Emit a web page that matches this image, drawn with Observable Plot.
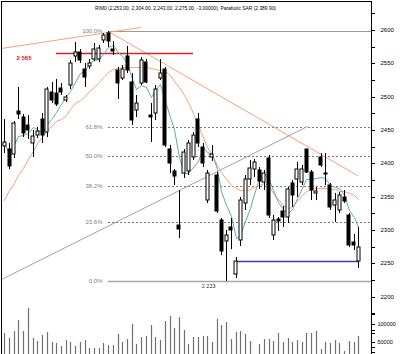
<!DOCTYPE html>
<html><head><meta charset="utf-8">
<script src="https://cdn.jsdelivr.net/npm/d3@7"></script>
<script src="https://cdn.jsdelivr.net/npm/@observablehq/plot@0.6"></script>
<style>
body{margin:0;background:#fff;}
#chart{position:relative;width:400px;height:354px;overflow:hidden;background:#fff;}
#chart svg{position:absolute;left:0;}
</style></head><body><div id="chart"></div>
<script>
// ---- data ----
const opens  = [2426,2422,2414,2479,2469,2457,2430,2443,2467,2447, 2507,2505,2513,2495,2517,2561,2567,2542,2546,2557, 2557,2585,2596,2571,2540,2528,2561,2522,2480,2521, 2552,2472,2475,2528,2542,2422,2388,2308,2385,2388, 2410,2467,2425,2345,2410,2382,2315,2283,2305,2234, 2285,2340,2376,2392,2390,2372,2408,2292,2316,2329, 2320,2370,2377,2372,2421,2387,2356,2410,2386,2368, 2338,2330,2349,2322,2282,2253];
const highs  = [2466,2430,2463,2515,2474,2472,2450,2455,2475,2515, 2522,2527,2520,2502,2555,2582,2572,2550,2557,2580, 2577,2595,2598,2584,2545,2547,2576,2535,2502,2559, 2556,2491,2517,2557,2545,2427,2392,2360,2422,2435, 2447,2475,2430,2390,2428,2387,2318,2300,2318,2260, 2350,2382,2405,2406,2395,2390,2412,2322,2320,2336, 2365,2375,2402,2398,2422,2390,2365,2415,2415,2370, 2355,2357,2360,2325,2294,2304];
const lows   = [2415,2392,2408,2466,2440,2437,2410,2438,2430,2440, 2490,2486,2502,2492,2512,2552,2551,2515,2542,2553, 2552,2580,2575,2563,2497,2525,2535,2457,2470,2517, 2520,2432,2465,2525,2425,2385,2368,2288,2378,2383, 2405,2425,2395,2340,2403,2325,2263,2223,2272,2228, 2276,2330,2368,2380,2362,2360,2318,2285,2298,2305, 2310,2335,2350,2368,2385,2345,2345,2395,2368,2330, 2312,2325,2340,2275,2270,2243];
const closes = [2432,2396,2461,2474,2446,2450,2441,2449,2442,2512, 2495,2489,2507,2499,2550,2567,2555,2529,2551,2572, 2573,2592,2583,2569,2520,2541,2540,2465,2490,2555, 2522,2469,2512,2535,2428,2401,2381,2302,2417,2430, 2442,2430,2400,2385,2414,2328,2268,2292,2300,2254, 2345,2376,2393,2402,2373,2385,2322,2315,2313,2319, 2362,2352,2392,2391,2387,2360,2358,2398,2384,2335, 2345,2352,2343,2277,2278,2275];
const volumes = [74200,62400,80400,110000,80400,141400,62400,53500,69600,76900, 51600,48900,40000,55400,50800,40000,50000,55400,33900,33900, 35500,48100,43500,43500,72300,50000,58100,100000,44600,63400, 67700,95700,64200,56200,106500,121500,89200,118800,83100,44600, 63400,65100,66900,67700,51600,111800,95700,105400,58900,78500, 80400,71500,53500,12000,45400,58100,58900,53500,74200,51600, 61600,51600,55400,51600,75000,75000,80400,32000,50800,48900, 56200,48900,27400,53500,50800,66900];
const slowMA = [2345,2360,2370,2382,2393,2407,2418,2430,2440,2450, 2458,2463,2467,2472,2482,2490,2495,2501,2508,2514, 2522,2530,2537,2541,2543,2544,2545,2545,2545,2545, 2545,2543,2541,2540,2538,2532,2524,2515,2503,2492, 2475,2458,2440,2425,2412,2398,2387,2377,2368,2363, 2360,2360,2362,2364,2367,2370,2366,2356,2346,2337, 2332,2336,2343,2352,2359,2362,2363,2363,2363,2362, 2361,2359,2358,2355,2352,2347];

const fibPercents = [0, 23.6, 38.2, 50, 61.8, 100];
const fibLabels   = ["0.0%", "23.6%", "38.2%", "50.0%", "61.8%", "100.0%"];
const fibLow = 2223, fibHigh = 2598, fibStartIndex = 22, fibLowIndex = 47;

const priceTicks = [2200,2250,2300,2350,2400,2450,2500,2550,2600];
const priceMinorTicks = [2125,2150,2175,2200,2225,2250,2275,2300,2325,2350,2375,2400,2425,2450,2475,2500,2525,2550,2575,2600,2625];
const volumeTicks = [50000,100000];
const volumeMinorTicks = [25000,50000,75000,100000,125000];

const trendUpperLeft = [{i:-0.7, p:2573}, {i:28.7, p:2604}];
const trendDown      = [{i:22, p:2598}, {i:74.7, p:2382}];
const trendUp        = [{i:-0.7, p:2226}, {i:64.1, p:2456}];
const redLevel  = {price:2565, from:11, to:40, label:"2 565"};
const blueLevel = {price:2253, from:49, to:75};
const titleText = "RIM0 (2,253.00, 2,304.00, 2,243.00, 2,275.00, -3.00000), Parabolic SAR (2,389.90)";

// ---- build ----
const candles = opens.map((o,i)=>({i, open:o, high:highs[i], low:lows[i], close:closes[i], up: closes[i] >= o, slow: slowMA[i], vol: volumes[i]}));
const fibRows = fibPercents.map((p,k)=>({pct:p, label:fibLabels[k], price: fibLow + (fibHigh-fibLow)*p/100}));
const xDomain = [-0.7, 77.69];
const font = "'Liberation Sans', Arial, sans-serif";
const hw = 0.32;
const ORANGE = "#f4a274", TEAL = "#5aacac";

const priceSvg = Plot.plot({
  width:400, height:354, marginTop:1, marginBottom:0, marginLeft:1, marginRight:29,
  x:{type:"linear", domain:xDomain, axis:null, round:true},
  y:{domain:[2114, 2643.5], axis:"right", label:null, ticks:priceMinorTicks, round:true,
     tickFormat:d => priceTicks.includes(d) ? String(d) : "", tickSize:3, tickPadding:6},
  style:{background:"transparent", fontFamily:font, fontSize:"6px", color:"#000"},
  marks:[
    Plot.ruleY(fibRows.filter(d=>d.pct>0 && d.pct<100), {y:"price", x1:fibStartIndex, x2:xDomain[1], stroke:"#7a7a7a", strokeDasharray:"2,2"}),
    Plot.ruleY(fibRows.filter(d=>d.pct===100), {y:"price", x1:fibStartIndex, x2:xDomain[1], stroke:"#9a9a9a"}),
    Plot.ruleY(fibRows.filter(d=>d.pct===0), {y:"price", x1:fibStartIndex, x2:xDomain[1], stroke:"#a8a8a8", strokeWidth:1.6}),
    Plot.text(fibRows, {x:fibStartIndex, y:"price", text:"label", textAnchor:"end", dx:-6, fill:"#808080", fontSize:6}),
    Plot.text([fibRows[0]], {x:fibLowIndex, y:"price", text:d=>"2 223", textAnchor:"end", dx:-11, dy:5, fill:"#333", fontSize:5.5}),
    Plot.line(trendUpperLeft, {x:"i", y:"p", stroke:ORANGE, strokeWidth:1, clip:true}),
    Plot.line(trendDown, {x:"i", y:"p", stroke:ORANGE, strokeWidth:1}),
    Plot.line(trendUp, {x:"i", y:"p", stroke:"#a6a6a6", strokeWidth:1}),
    Plot.ruleY([redLevel], {y:"price", x1:"from", x2:"to", stroke:"#e02020", strokeWidth:1.6}),
    Plot.text([redLevel], {x:xDomain[0], y:"price", text:"label", textAnchor:"start", dx:15, dy:5, fill:"#d42020", fontWeight:"bold", fontSize:6}),
    Plot.ruleY([blueLevel], {y:"price", x1:"from", x2:"to", stroke:"#3a3ac0", strokeWidth:1.5}),
    Plot.line(candles, {x:"i", y:"slow", stroke:ORANGE, strokeWidth:1}),
    Plot.line(candles, Plot.windowY({k:5, anchor:"end"}, {x:"i", y:"close", stroke:TEAL, strokeWidth:1})),
    Plot.ruleX(candles, {x:"i", y1:"low", y2:"high", stroke:"#000"}),
    Plot.rect(candles.filter(d=>d.up), {x1:d=>d.i-hw, x2:d=>d.i+hw, y1:"open", y2:"close", fill:"#fff", stroke:"#000"}),
    Plot.rect(candles.filter(d=>!d.up), {x1:d=>d.i-hw, x2:d=>d.i+hw, y1:"open", y2:"close", fill:"#000", stroke:"#000"}),
    Plot.frame({stroke:"#000"})
  ]
});

d3.select(priceSvg).append("text")
  .attr("x",95).attr("y",10)
  .attr("text-anchor","start")
  .attr("textLength",181).attr("lengthAdjust","spacingAndGlyphs")
  .attr("font-size",6).attr("font-family",font).attr("fill","#000")
  .text(titleText);

const volSvg = Plot.plot({
  width:400, height:64, marginTop:0, marginBottom:0, marginLeft:1, marginRight:29,
  x:{type:"linear", domain:xDomain, axis:null, round:true},
  y:{domain:[18548, 190591], axis:"right", label:null, ticks:volumeMinorTicks, round:true,
     tickFormat:d => volumeTicks.includes(d) ? String(d) : "", tickSize:3, tickPadding:3},
  style:{background:"transparent", fontFamily:font, fontSize:"5.5px", color:"#000"},
  marks:[
    Plot.ruleX(candles, {x:"i", y1:0, y2:"vol", stroke:"#707070", strokeWidth:1.2, clip:true})
  ]
});

const chart = document.getElementById("chart");
priceSvg.style.top = "0px";
volSvg.style.top = "290px";
chart.appendChild(priceSvg);
chart.appendChild(volSvg);
</script>
</body></html>
